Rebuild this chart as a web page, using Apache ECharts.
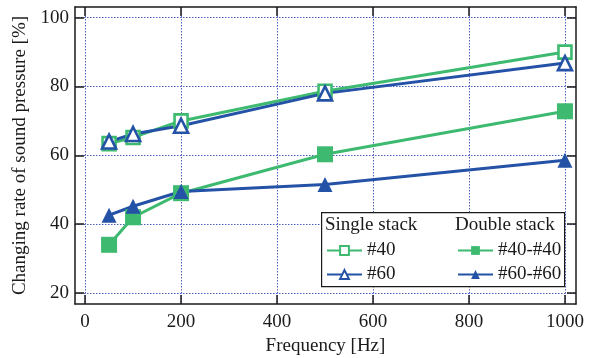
<!DOCTYPE html>
<html>
<head>
<meta charset="utf-8">
<script src="https://cdn.jsdelivr.net/npm/echarts@6/dist/echarts.min.js"></script>
<style>html,body{margin:0;padding:0;background:#fff}#c{width:595px;height:358px}</style>
</head>
<body>
<div id="c"></div>
<script>
const freq = [50, 100, 200, 500, 1000];
const single40 = [63.4, 65.2, 70.0, 78.6, 90.0];
const single60 = [64.0, 66.2, 68.6, 78.0, 86.8];
const double40 = [34.0, 42.0, 49.0, 60.3, 72.8];
const double60 = [42.6, 45.2, 49.5, 51.5, 58.6];
const xTicks = [0, 200, 400, 600, 800, 1000];
const yTicks = [20, 40, 60, 80, 100];

const GREEN = '#3dba70', BLUE = '#2452a6';
const FONT = '"Liberation Serif", "DejaVu Serif", serif';
const FS = 19;
const pairs = v => freq.map((f, i) => [f, v[i]]);

const chart = echarts.init(document.getElementById('c'), null, {renderer: 'canvas'});
const gridStyle = {show: true, lineStyle: {color: '#4d60c4', type: [1.5, 1.5], width: 1}};
const lineCol = '#1a1a1a';
const xBase = {type: 'value', min: -21, max: 1023,
  axisLine: {show: true, onZero: false, lineStyle: {color: lineCol, width: 1.5}},
  axisTick: {show: true, inside: true, length: 9, customValues: xTicks, lineStyle: {color: lineCol, width: 1.5}},
  splitLine: {show: false}};
const yBase = {type: 'value', min: 16.8, max: 103.1,
  axisLine: {show: true, onZero: false, lineStyle: {color: lineCol, width: 1.5}},
  axisTick: {show: true, inside: true, length: 9, customValues: yTicks, lineStyle: {color: lineCol, width: 1.5}},
  splitLine: {show: false}};

function series(name, data, color, symbol, size, open) {
  return {name, type: 'line', data: pairs(data), symbol, symbolSize: size,
    xAxisIndex: 0, yAxisIndex: 0,
    lineStyle: {color, width: 3}, itemStyle: {color: open ? '#fff' : color, borderColor: color, borderWidth: open ? 2.6 : 0},
    showAllSymbol: true, z: 3};
}
const lblStyle = {fontFamily: FONT, fontSize: FS, color: '#1a1a1a'};

chart.setOption({
  animation: false,
  textStyle: {fontFamily: FONT},
  grid: {left: 75, right: 19, top: 7, bottom: 54, containLabel: false, outerBoundsMode: 'none'},
  xAxis: [
    Object.assign({}, xBase, {position: 'bottom',
      name: 'Frequency [Hz]', nameLocation: 'middle', nameGap: 33,
      nameTextStyle: lblStyle,
      axisLabel: Object.assign({show: true, customValues: xTicks, margin: 9, formatter: v => String(v)}, lblStyle),
      splitLine: Object.assign({}, gridStyle)}),
    Object.assign({}, xBase, {position: 'top', axisLabel: {show: false}})
  ],
  yAxis: [
    Object.assign({}, yBase, {position: 'left',
      name: 'Changing rate of sound pressure [%]', nameLocation: 'middle', nameGap: 41,
      nameTextStyle: lblStyle,
      axisLabel: Object.assign({show: true, customValues: yTicks, margin: 6, formatter: v => String(v)}, lblStyle),
      splitLine: Object.assign({}, gridStyle)}),
    Object.assign({}, yBase, {position: 'right', axisLabel: {show: false}})
  ],
  legend: [
    {data: ['#40', '#60'], orient: 'vertical', left: 326, top: 241, itemGap: 5, padding: 0, z: 20,
     itemWidth: 35, itemHeight: 11, textStyle: lblStyle},
    {data: ['#40-#40', '#60-#60'], orient: 'vertical', left: 457, top: 241, itemGap: 5, padding: 0, z: 20,
     itemWidth: 35, itemHeight: 11, textStyle: lblStyle}
  ],
  graphic: [
    {type: 'rect', left: 321, top: 212, z: 5, shape: {width: 243, height: 74},
     style: {fill: '#fff', stroke: '#1a1a1a', lineWidth: 1.2}},
    {type: 'text', left: 325, top: 216, z: 6, style: {text: 'Single stack', font: FS + 'px ' + FONT, fill: '#1a1a1a'}},
    {type: 'text', left: 455, top: 216, z: 6, style: {text: 'Double stack', font: FS + 'px ' + FONT, fill: '#1a1a1a'}}
  ],
  series: [
    series('#40', single40, GREEN, 'rect', 13, true),
    series('#60', single60, BLUE, 'triangle', 14, true),
    series('#40-#40', double40, GREEN, 'rect', 16, false),
    series('#60-#60', double60, BLUE, 'triangle', 15, false)
  ]
});
</script>
</body>
</html>
